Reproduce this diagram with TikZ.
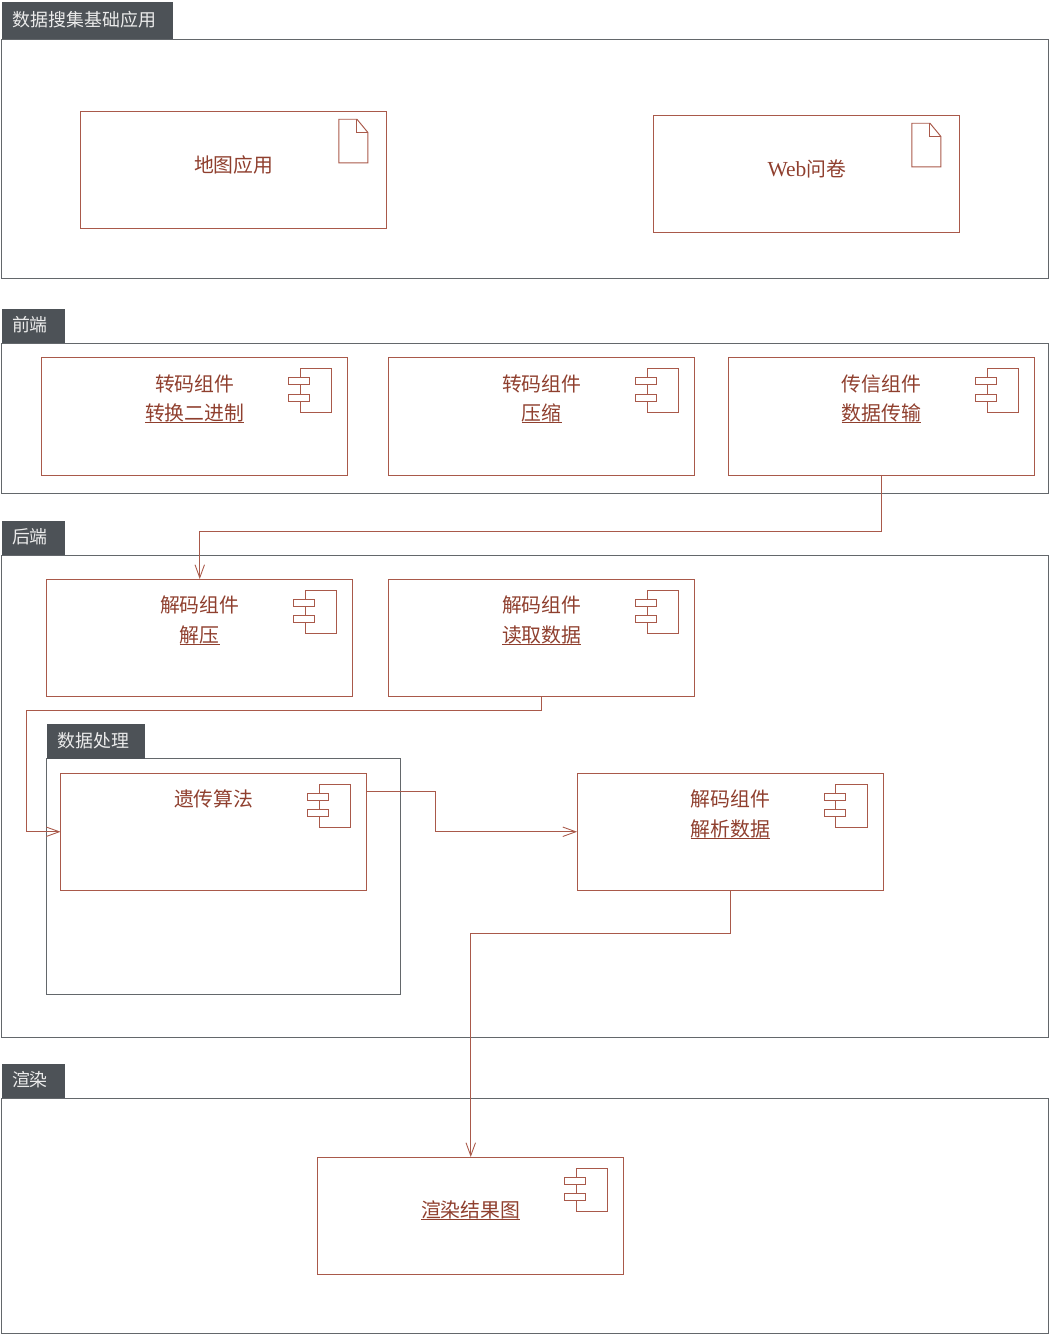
\documentclass[tikz,border=0pt]{standalone}
\usepackage{fontspec}
\setmainfont{Noto Sans CJK SC}
\newfontfamily\latinfont[Scale=1.08]{Liberation Serif}
\usetikzlibrary{arrows.meta}
\definecolor{UMLframe}{HTML}{63676B}
\definecolor{UMLheader}{HTML}{4D5257}
\definecolor{UMLline}{HTML}{A9594A}
\definecolor{UMLtext}{HTML}{8F3F2E}
\newcommand{\compline}[1]{\underline{\raisebox{0pt}[\height][0pt]{#1}}}
\tikzset{
  frame/.style={draw=UMLframe, line width=0.55pt},
  header/.style={fill=UMLheader, text=white!92!black, inner sep=0pt, outer sep=0pt, font=\fontsize{10.2}{12}\selectfont},
  compbox/.style={draw=UMLline, line width=0.55pt, inner sep=0pt, outer sep=0pt, minimum width=6.13cm, minimum height=2.35cm},
  compicon/.style={draw=UMLline, line width=0.55pt},
  complabel/.style={text=UMLtext, inner sep=0pt, font=\fontsize{11.3}{14}\selectfont},
  compunder/.style={complabel, anchor=base},
  flow/.style={draw=UMLline, line width=0.55pt, -{Straight Barb[length=7.4pt,width=5.4pt,line width=0.5pt]}}
}
\begin{document}
\begin{tikzpicture}[x=0.02cm, y=-0.02cm]
\useasboundingbox (0,0) rectangle (1050,1335);

% Frames
\draw[frame] (1,39.5) rectangle (1048.5,278);
\draw[frame] (1,343.5) rectangle (1048.5,493.5);
\draw[frame] (1,555) rectangle (1048.5,1037);
\draw[frame] (1,1098) rectangle (1048.5,1333);
\draw[frame] (46.5,758.5) rectangle (400,994);

% Headers
\fill[UMLheader] (2,2) rectangle (173,39);
\fill[UMLheader] (2,309) rectangle (64.5,343);
\fill[UMLheader] (2,521) rectangle (64.5,555);
\fill[UMLheader] (2,1064) rectangle (64.5,1098);
\fill[UMLheader] (47,724) rectangle (145,758.5);
\node[header] (hdata) at (84.5,20) {数据搜集基础应用};
\node[header] (hfront) at (30,325) {前端};
\node[header] (hback) at (30,537) {后端};
\node[header] (hrender) at (30,1080) {渲染};
\node[header] (hproc) at (93.5,741) {数据处理};

% Documents
\node[compbox] (map) at (233.75,170) {};
\node[compbox] (web) at (806.75,174) {};
\foreach \n in {map,web} {
  \begin{scope}[shift={(\n.north east)}]
  \draw[compicon] (-48,8) -- (-30,8) -- (-19,21.3) -- (-19,51.7) -- (-48,51.7) -- cycle;
  \draw[compicon] (-30,8) -- (-30,21.3) -- (-19,21.3);
  \end{scope}
}
\node[complabel] (maptxt) at (233.75,165) {地图应用};
\node[complabel] (webtxt) at (806.75,169) {{\latinfont Web}问卷};

% Components
\node[compbox] (binary) at (194.75,416.25) {};
\node[compbox] (zip) at (541.75,416.25) {};
\node[compbox] (send) at (881.25,416.25) {};
\node[compbox] (unzip) at (199.75,637.75) {};
\node[compbox] (read) at (541.75,637.75) {};
\node[compbox] (genetic) at (213.75,831.75) {};
\node[compbox] (parse) at (730.25,831.75) {};
\node[compbox] (result) at (470.75,1215.75) {};
\foreach \n in {binary,zip,send,unzip,read,genetic,parse,result} {
  \begin{scope}[shift={(\n.north east)}]
  \draw[compicon] (-47.5,11) rectangle (-16,54.5);
  \draw[compicon, fill=white] (-59,20) rectangle (-38,27);
  \draw[compicon, fill=white] (-59,36.5) rectangle (-38,43.5);
  \end{scope}
}

\node[complabel] (binarya) at (194.75,384) {转码组件};
\node[compunder] (binaryb) at (194.75,420) {\compline{转换二进制}};
\node[complabel] (zipa) at (541.75,384) {转码组件};
\node[compunder] (zipb) at (541.75,420) {\compline{压缩}};
\node[complabel] (senda) at (881.25,384) {传信组件};
\node[compunder] (sendb) at (881.25,420) {\compline{数据传输}};
\node[complabel] (unzipa) at (199.75,605) {解码组件};
\node[compunder] (unzipb) at (199.75,642) {\compline{解压}};
\node[complabel] (reada) at (541.75,605) {解码组件};
\node[compunder] (readb) at (541.75,642) {\compline{读取数据}};
\node[complabel] (genetica) at (213.75,799) {遗传算法};
\node[complabel] (parsea) at (730.25,799) {解码组件};
\node[compunder] (parseb) at (730.25,836) {\compline{解析数据}};
\node[compunder] (resulta) at (470.75,1217) {\compline{渲染结果图}};

% Connectors
\draw[flow] (send.south) -- ++(0,56) -| (unzip.north);
\draw[flow] (read.south) -- ++(0,13.5) -- ++(-515.75,0) |- (genetic.west);
\draw[flow] (genetic.east) -- ++(0,-40.75) -- ++(68.5,0) |- (parse.west);
\draw[flow] (parse.south) -- ++(0,42.5) -| (result.north);

\end{tikzpicture}
\end{document}
